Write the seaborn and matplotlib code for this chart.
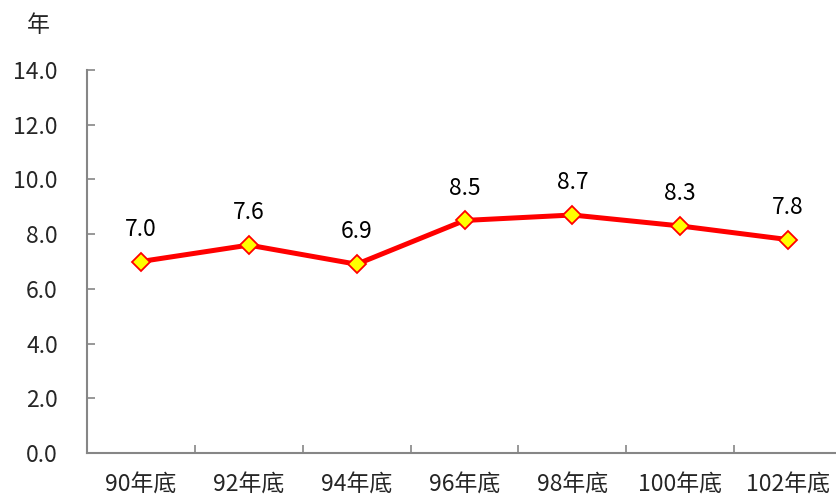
import pandas as pd
import matplotlib
matplotlib.use('Agg')
import matplotlib.pyplot as plt
import seaborn as sns

# data
categories = ['90年底', '92年底', '94年底', '96年底', '98年底', '100年底', '102年底']
values = [7.0, 7.6, 6.9, 8.5, 8.7, 8.3, 7.8]
y_ticks = [0, 2, 4, 6, 8, 10, 12, 14]

df = pd.DataFrame({'year': categories, 'value': values})

sns.set_style('white')
plt.rcParams['font.family'] = ['Noto Sans CJK TC', 'DejaVu Sans']

fig = plt.figure(figsize=(8.36, 4.97), dpi=100)
ax = fig.add_axes([87 / 836, 44 / 497, 755 / 836, 383 / 497])

sns.lineplot(data=df, x='year', y='value', ax=ax, sort=False,
             color='#ff0000', linewidth=3.6, marker='D', markersize=9.5,
             markerfacecolor='#ffff00', markeredgecolor='#ff0000',
             markeredgewidth=1.3)

fs = 16.5
for i, v in enumerate(values):
    ax.annotate(f'{v:.1f}', (i, v), xytext=(0, 15), textcoords='offset points',
                ha='center', va='bottom', fontsize=fs, color='black')

ax.set_xlim(-0.5, len(categories) - 0.5)
ax.set_ylim(0, 14)
ax.set_yticks(y_ticks)
ax.set_yticklabels([f'{t:.1f}' for t in y_ticks], fontsize=fs)
ax.set_xticks([i + 0.5 for i in range(len(categories) - 1)], minor=False)
ax.set_xticklabels([])
ax.set_xticks(range(len(categories)), minor=True)
ax.set_xticklabels(categories, minor=True, fontsize=fs)
ax.tick_params(axis='x', which='major', bottom=True, direction='in', length=6, width=1.2, color='#868686')
ax.tick_params(axis='x', which='minor', bottom=False, length=0, pad=15)
ax.tick_params(axis='y', left=True, direction='in', length=6, width=1.2, color='#868686', pad=21)
ax.set_xlabel('')
ax.set_ylabel('')

for s in ['top', 'right']:
    ax.spines[s].set_visible(False)
for s in ['left', 'bottom']:
    ax.spines[s].set_color('#868686')
    ax.spines[s].set_linewidth(1.5)

fig.text(38 / 836, 1 - 25 / 497, '年', ha='center', va='center', fontsize=fs)

fig.savefig('out.png', dpi=100)
